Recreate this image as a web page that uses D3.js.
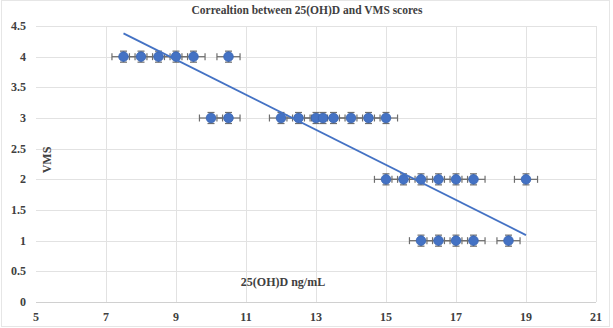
<!DOCTYPE html>
<html>
<head>
<meta charset="utf-8">
<script src="https://cdn.jsdelivr.net/npm/d3@7"></script>
<style>
  body { margin: 0; background: #fff; }
  text { font-family: "Liberation Serif", "Times New Roman", serif; font-weight: bold; fill: #404040; }
</style>
</head>
<body>
<svg id="chart" width="613" height="328"></svg>
<script>
// values
const vitD = [7.5, 8, 8.5, 9, 9.5, 10.5,
	10, 10.5, 12, 12.5, 13, 13.2, 13.5, 14, 14.5, 15,
	15, 15.5, 16, 16.5, 17, 17.5, 19,
	16, 16.5, 17, 17.5, 18.5]
const vms = [4, 4, 4, 4, 4, 4,
	3, 3, 3, 3, 3, 3, 3, 3, 3, 3,
	2, 2, 2, 2, 2, 2, 2,
	1, 1, 1, 1, 1]
const xErr = 0.33
const yErr = 0.09
const xTicks = [5, 7, 9, 11, 13, 15, 17, 19, 21]
const yTicks = [0, 0.5, 1, 1.5, 2, 2.5, 3, 3.5, 4, 4.5]
// linear trend line as drawn in the reference
const trendSlope = -0.286
const trendIntercept = 6.525
const trendRange = [7.5, 19]

const blue = '#4472c4'
const errColor = '#6e6e6e'

const svg = d3.select('#chart')

const x = d3.scaleLinear().domain([5, 21]).range([36, 596])
const y = d3.scaleLinear().domain([0, 4.5]).range([302, 26])

// outer chart border
svg.append('rect')
	.attr('x', 1.5).attr('y', 0.5)
	.attr('width', 608).attr('height', 326)
	.attr('fill', 'none').attr('stroke', '#e6e6e6')

// gridlines
svg.append('g').selectAll('line.h')
	.data(yTicks)
	.join('line')
		.attr('x1', x(5)).attr('x2', x(21))
		.attr('y1', (d) => Math.round(y(d)) + 0.5)
		.attr('y2', (d) => Math.round(y(d)) + 0.5)
		.attr('stroke', (d) => d === 0 ? '#d0d0d0' : '#e2e2e2')

svg.append('g').selectAll('line.v')
	.data(xTicks)
	.join('line')
		.attr('y1', y(0)).attr('y2', y(4.5))
		.attr('x1', (d) => Math.round(x(d)) + 0.5)
		.attr('x2', (d) => Math.round(x(d)) + 0.5)
		.attr('stroke', (d) => d === 5 ? 'none' : '#e2e2e2')

// tick labels
svg.append('g').selectAll('text')
	.data(yTicks)
	.join('text')
		.attr('x', 26)
		.attr('y', (d) => y(d) + 4)
		.attr('text-anchor', 'end')
		.attr('font-size', 12)
		.text((d) => d)

svg.append('g').selectAll('text')
	.data(xTicks)
	.join('text')
		.attr('x', (d) => x(d))
		.attr('y', 321)
		.attr('text-anchor', 'middle')
		.attr('font-size', 12)
		.text((d) => d)

// titles
svg.append('text')
	.attr('x', 307).attr('y', 14)
	.attr('text-anchor', 'middle')
	.attr('font-size', 11.5)
	.text('Correaltion between 25(OH)D and VMS scores')

svg.append('text')
	.attr('transform', 'translate(51,160) rotate(-90)')
	.attr('text-anchor', 'middle')
	.attr('font-size', 12)
	.text('VMS')

svg.append('text')
	.attr('x', 283).attr('y', 286)
	.attr('text-anchor', 'middle')
	.attr('font-size', 12)
	.text('25(OH)D ng/mL')

const points = vitD.map((v, i) => ({ x: v, y: vms[i] }))

// error bars
const err = svg.append('g')
	.attr('stroke', errColor)
	.attr('stroke-width', 1.2)
	.selectAll('g')
	.data(points)
	.join('g')

err.append('line')
	.attr('x1', (d) => x(d.x - xErr)).attr('x2', (d) => x(d.x + xErr))
	.attr('y1', (d) => y(d.y)).attr('y2', (d) => y(d.y))
err.append('line')
	.attr('x1', (d) => x(d.x - xErr)).attr('x2', (d) => x(d.x - xErr))
	.attr('y1', (d) => y(d.y) - 3.5).attr('y2', (d) => y(d.y) + 3.5)
err.append('line')
	.attr('x1', (d) => x(d.x + xErr)).attr('x2', (d) => x(d.x + xErr))
	.attr('y1', (d) => y(d.y) - 3.5).attr('y2', (d) => y(d.y) + 3.5)
err.append('line')
	.attr('x1', (d) => x(d.x)).attr('x2', (d) => x(d.x))
	.attr('y1', (d) => y(d.y - yErr)).attr('y2', (d) => y(d.y + yErr))
err.append('line')
	.attr('x1', (d) => x(d.x) - 3.5).attr('x2', (d) => x(d.x) + 3.5)
	.attr('y1', (d) => y(d.y + yErr)).attr('y2', (d) => y(d.y + yErr))
err.append('line')
	.attr('x1', (d) => x(d.x) - 3.5).attr('x2', (d) => x(d.x) + 3.5)
	.attr('y1', (d) => y(d.y - yErr)).attr('y2', (d) => y(d.y - yErr))

// markers
svg.append('g').selectAll('circle')
	.data(points)
	.join('circle')
		.attr('cx', (d) => x(d.x))
		.attr('cy', (d) => y(d.y))
		.attr('r', 4.8)
		.attr('fill', blue)
		.attr('stroke', '#3a64b0')
		.attr('stroke-width', 0.8)

// trend line
const trend = d3.line()
	.x((d) => x(d))
	.y((d) => y(trendIntercept + trendSlope * d))

svg.append('path')
	.datum(trendRange)
	.attr('d', trend)
	.attr('fill', 'none')
	.attr('stroke', blue)
	.attr('stroke-width', 1.8)
</script>
</body>
</html>
